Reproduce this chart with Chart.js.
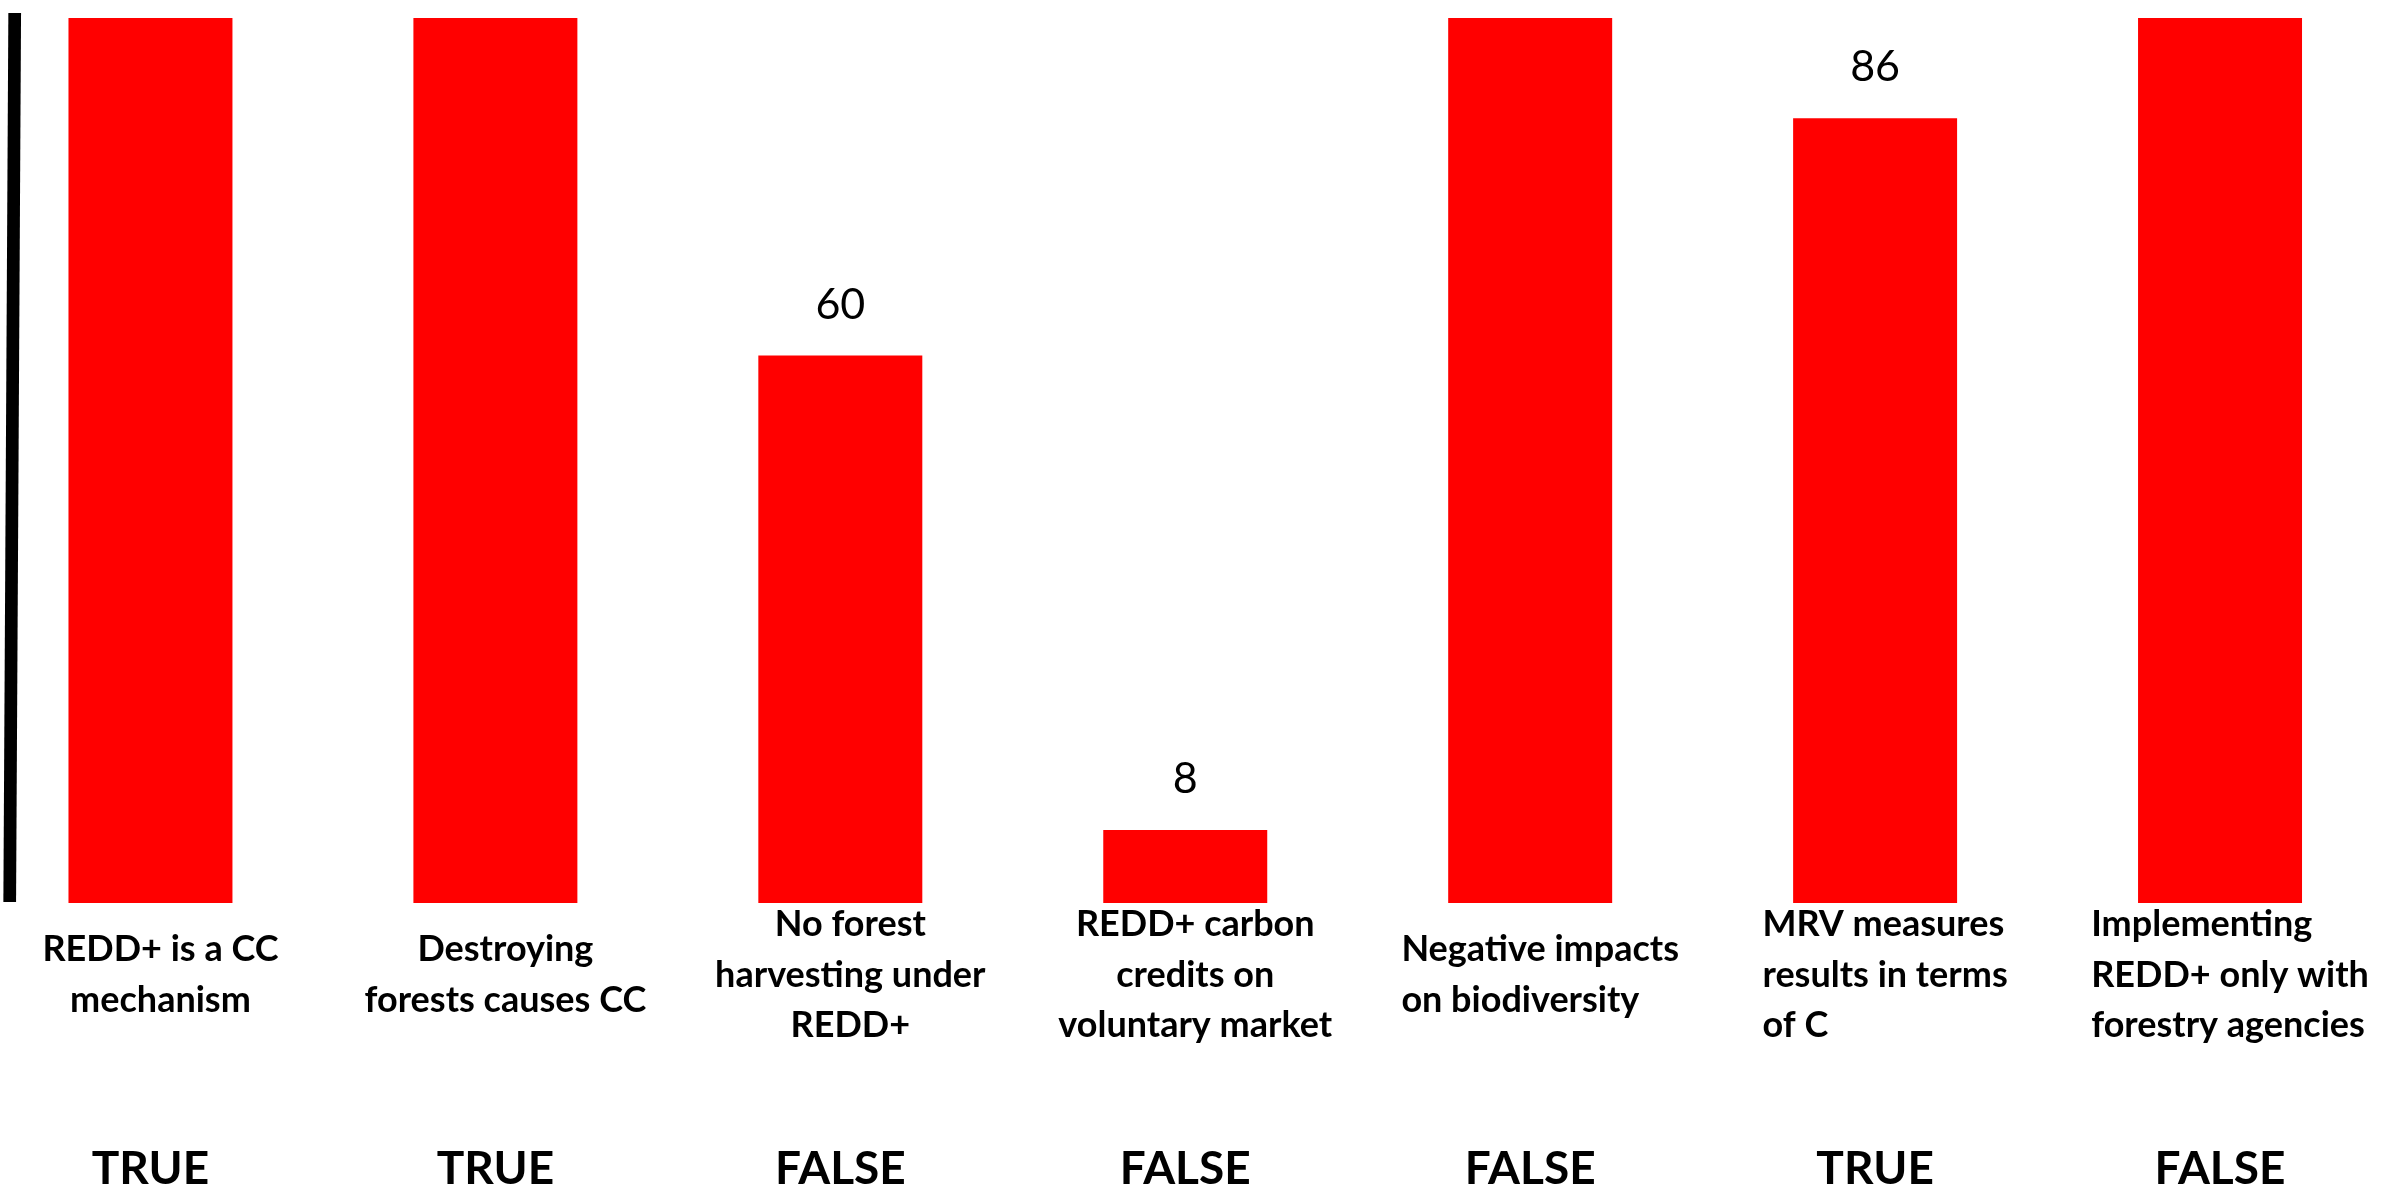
<!DOCTYPE html>
<html>
<head>
<meta charset="utf-8">
<script src="https://cdn.jsdelivr.net/npm/chart.js@4.4.0/dist/chart.umd.min.js"></script>
<style>
  html, body { margin: 0; padding: 0; background: #ffffff; overflow: hidden; }
  #wrap { position: absolute; left: -22px; top: 0; width: 2430px; height: 1196px; }
  canvas { display: block; }
</style>
</head>
<body>
<div id="wrap"><canvas id="c" width="2430" height="1196"></canvas></div>
<script>
// ---- data ----
const categories = [
  ["REDD+ is a CC", "mechanism"],
  ["Destroying", "forests causes CC"],
  ["No forest", "harvesting under", "REDD+"],
  ["REDD+ carbon", "credits on", "voluntary market"],
  ["Negative impacts", "on biodiversity"],
  ["MRV measures", "results in terms", "of C"],
  ["Implementing", "REDD+ only with", "forestry agencies"]
];
const values = [100, 100, 60, 8, 100, 86, 100];
const answers = ["TRUE", "TRUE", "FALSE", "FALSE", "FALSE", "TRUE", "FALSE"];
const labelAlign = ["center", "center", "center", "center", "left", "left", "left"];

const FONT = "Lato, 'Open Sans', 'DejaVu Sans', sans-serif";

const overlay = {
  id: 'overlay',
  afterDatasetsDraw(chart) {
    const ctx = chart.ctx;
    const x = chart.scales.x;
    const y = chart.scales.y;
    const area = chart.chartArea;
    const off = 22; // canvas is shifted left by 22px
    ctx.save();

    // left axis line (slightly slanted as in the reference)
    ctx.strokeStyle = '#000000';
    ctx.lineWidth = 12.7;
    ctx.lineCap = 'butt';
    ctx.beginPath();
    ctx.moveTo(14.7 + off, 13);
    ctx.lineTo(9.7 + off, area.bottom - 1);
    ctx.stroke();

    // value labels
    ctx.fillStyle = '#000000';
    ctx.font = "400 43px " + FONT;
    ctx.textAlign = 'center';
    ctx.textBaseline = 'alphabetic';
    values.forEach((v, i) => {
      if (v > y.max) return;
      const px = x.getPixelForValue(i);
      const py = y.getPixelForValue(v);
      ctx.fillText(String(v), px, py - 37);
    });

    // category labels
    ctx.font = "700 36px " + FONT;
    const lh = 50.7;
    const midBase = 986.7;
    categories.forEach((lines, i) => {
      const cx = x.getPixelForValue(i) + 10;
      const n = lines.length;
      if (labelAlign[i] === 'center') {
        ctx.textAlign = 'center';
        lines.forEach((ln, k) => {
          ctx.fillText(ln, cx, midBase + (k - (n - 1) / 2) * lh);
        });
      } else {
        ctx.textAlign = 'left';
        const w = Math.max(...lines.map(l => ctx.measureText(l).width));
        const lx = cx - w / 2;
        lines.forEach((ln, k) => {
          ctx.fillText(ln, lx, midBase + (k - (n - 1) / 2) * lh);
        });
      }
    });

    // TRUE / FALSE row
    ctx.font = "700 46px " + FONT;
    ctx.textAlign = 'center';
    answers.forEach((a, i) => {
      const cx = x.getPixelForValue(i);
      ctx.fillText(a, cx, 1184);
    });

    ctx.restore();
  }
};

new Chart(document.getElementById('c'), {
  type: 'bar',
  data: {
    labels: categories,
    datasets: [{
      data: values,
      backgroundColor: '#FF0000',
      borderWidth: 0,
      barPercentage: 0.4754,
      categoryPercentage: 1.0,
      clip: 0
    }]
  },
  options: {
    responsive: false,
    animation: false,
    devicePixelRatio: 1,
    layout: { padding: { left: 0, right: 15.5, top: 18, bottom: 293 } },
    plugins: { legend: { display: false }, tooltip: { enabled: false }, title: { display: false } },
    scales: {
      x: { display: false, offset: true, grid: { display: false } },
      y: { display: false, min: 0, max: 97, grid: { display: false } }
    }
  },
  plugins: [overlay]
});
</script>
</body>
</html>
